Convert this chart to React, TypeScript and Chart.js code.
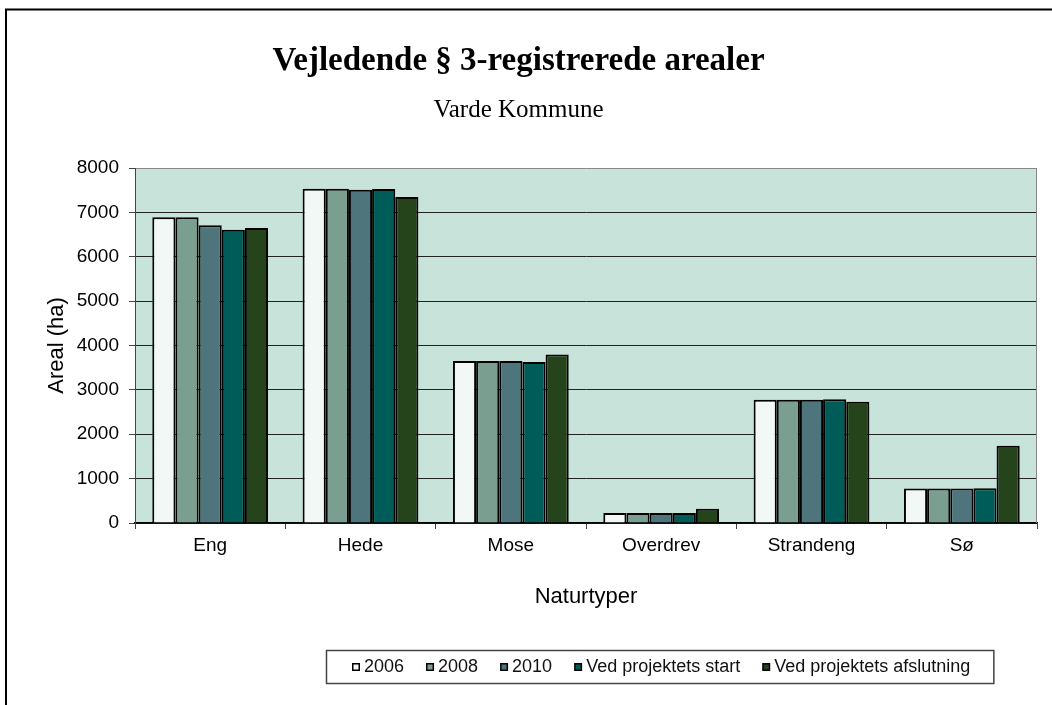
import React, { useEffect, useRef } from "react";
import { Chart, registerables } from "chart.js";

Chart.register(...registerables);

const categories = ["Eng", "Hede", "Mose", "Overdrev", "Strandeng", "Sø"];
const seriesNames = ["2006", "2008", "2010", "Ved projektets start", "Ved projektets afslutning"];
const values2006 = [6890, 7535, 3650, 225, 2780, 775];
const values2008 = [6890, 7535, 3650, 225, 2780, 775];
const values2010 = [6710, 7512, 3650, 225, 2780, 775];
const valuesStart = [6610, 7525, 3630, 225, 2790, 785];
const valuesEnd = [6650, 7345, 3800, 320, 2735, 1740];
const seriesColors = ["#F2F8F5", "#7A9E90", "#4F757C", "#005C59", "#26441C"];
const yMin = 0;
const yMax = 8000;
const yStep = 1000;

const titleText = "Vejledende § 3-registrerede arealer";
const subtitleText = "Varde Kommune";
const yTitle = "Areal (ha)";
const xTitle = "Naturtyper";

const SANS = "'Liberation Sans', Arial, sans-serif";
const SERIF = "'Liberation Serif', 'Times New Roman', serif";

const decorPlugin = {
  id: "decor",
  beforeDraw(chart: any) {
    const { ctx, chartArea } = chart;
    ctx.save();
    ctx.fillStyle = "#ffffff";
    ctx.fillRect(0, 0, chart.width, chart.height);
    ctx.fillStyle = "#C8E4DA";
    ctx.fillRect(chartArea.left, chartArea.top, chartArea.right - chartArea.left, chartArea.bottom - chartArea.top);
    ctx.strokeStyle = "#000";
    ctx.lineWidth = 2;
    ctx.beginPath();
    ctx.moveTo(6, chart.height);
    ctx.lineTo(6, 9.5);
    ctx.lineTo(chart.width, 9.5);
    ctx.stroke();
    ctx.restore();
  },
  afterDatasetsDraw(chart: any) {
    const { ctx, chartArea } = chart;
    ctx.save();
    ctx.strokeStyle = "#888";
    ctx.lineWidth = 1;
    ctx.beginPath();
    ctx.moveTo(chartArea.right - 0.5, chartArea.top);
    ctx.lineTo(chartArea.right - 0.5, chartArea.bottom);
    ctx.stroke();
    ctx.restore();
  },
  afterDraw(chart: any) {
    const { ctx } = chart;
    const datasets = chart.data.datasets;
    ctx.save();
    ctx.font = `18px ${SANS}`;
    const sq = 8;
    const gap = 4;
    const spacing = 22;
    const padL = 26;
    const padR = 23;
    const widths = datasets.map((d: any) => ctx.measureText(d.label).width);
    let total = padL + padR;
    widths.forEach((w: number, i: number) => {
      total += sq + gap + w + (i < widths.length - 1 ? spacing : 0);
    });
    const centerX = 660;
    const top = 650;
    const height = 33;
    const left = Math.round(centerX - total / 2);
    ctx.strokeStyle = "#444";
    ctx.lineWidth = 1.5;
    ctx.strokeRect(left + 0.5, top + 0.5, total, height);
    const midY = top + height / 2 + 0.5;
    let x = left + padL;
    datasets.forEach((d: any, i: number) => {
      ctx.fillStyle = "#000";
      ctx.fillRect(x, midY - sq / 2, sq, sq);
      ctx.fillStyle = d.backgroundColor;
      ctx.fillRect(x + 1.5, midY - sq / 2 + 1.5, sq - 3, sq - 3);
      ctx.fillStyle = "#111";
      ctx.textBaseline = "middle";
      ctx.textAlign = "left";
      ctx.fillText(d.label, x + sq + gap, midY);
      x += sq + gap + widths[i] + spacing;
    });
    ctx.restore();
  },
};

export default function App() {
  const canvasRef = useRef<HTMLCanvasElement | null>(null);

  useEffect(() => {
    const canvas = canvasRef.current;
    if (!canvas) return;
    const seriesValues = [values2006, values2008, values2010, valuesStart, valuesEnd];
    const chart = new Chart(canvas, {
      type: "bar",
      data: {
        labels: categories,
        datasets: seriesNames.map((name, i) => ({
          label: name,
          data: seriesValues[i],
          backgroundColor: seriesColors[i],
          borderColor: "#000",
          borderWidth: 2,
          categoryPercentage: 0.77,
          barPercentage: 1.0,
        })),
      },
      options: {
        responsive: false,
        animation: false,
        devicePixelRatio: 1,
        layout: { padding: { left: 0, right: 15, top: 0, bottom: 0 } },
        plugins: {
          legend: { display: false },
          tooltip: { enabled: false },
          title: {
            display: true,
            text: titleText,
            color: "#000",
            font: { family: SERIF, size: 33, weight: "bold", lineHeight: 1.2 },
            padding: { top: 41.2, bottom: 0 },
          },
          subtitle: {
            display: true,
            text: subtitleText,
            color: "#000",
            font: { family: SERIF, size: 25, weight: "normal", lineHeight: 1.2 },
            padding: { top: 14.2, bottom: 43 },
          },
        },
        scales: {
          x: {
            offset: true,
            grid: {
              offset: true,
              drawOnChartArea: false,
              drawTicks: true,
              tickLength: 6,
              color: "#444",
              lineWidth: 1,
            },
            border: { color: "#000", width: 1.5 },
            ticks: {
              color: "#000",
              font: { family: SANS, size: 19 },
              padding: 5.6,
            },
            title: {
              display: true,
              text: xTitle,
              color: "#000",
              font: { family: SANS, size: 22, lineHeight: 1.2 },
              padding: { top: 0, bottom: 94.8 },
            },
            afterFit(scale: any) {
              scale.height = 182;
            },
          },
          y: {
            min: yMin,
            max: yMax,
            ticks: {
              stepSize: yStep,
              color: "#000",
              font: { family: SANS, size: 19 },
              padding: 10,
              callback: (v: any) => String(v),
            },
            grid: {
              color: (c: any) => (c.tick && c.tick.value === yMax ? "#888" : "#222"),
              lineWidth: 1,
              drawTicks: true,
              tickLength: 6,
              tickColor: "#444",
            },
            border: { color: "#444", width: 1 },
            title: {
              display: true,
              text: yTitle,
              color: "#000",
              font: { family: SANS, size: 22, lineHeight: 1.2 },
              padding: { top: 43.5, bottom: 0 },
            },
            afterFit(scale: any) {
              scale.width = 135;
            },
          },
        },
      },
      plugins: [decorPlugin],
    });
    return () => chart.destroy();
  }, []);

  return (
    <div style={{ position: "absolute", left: 0, top: 0, width: 1052, height: 705, background: "#fff" }}>
      <canvas ref={canvasRef} width={1052} height={705} style={{ display: "block" }} />
    </div>
  );
}
